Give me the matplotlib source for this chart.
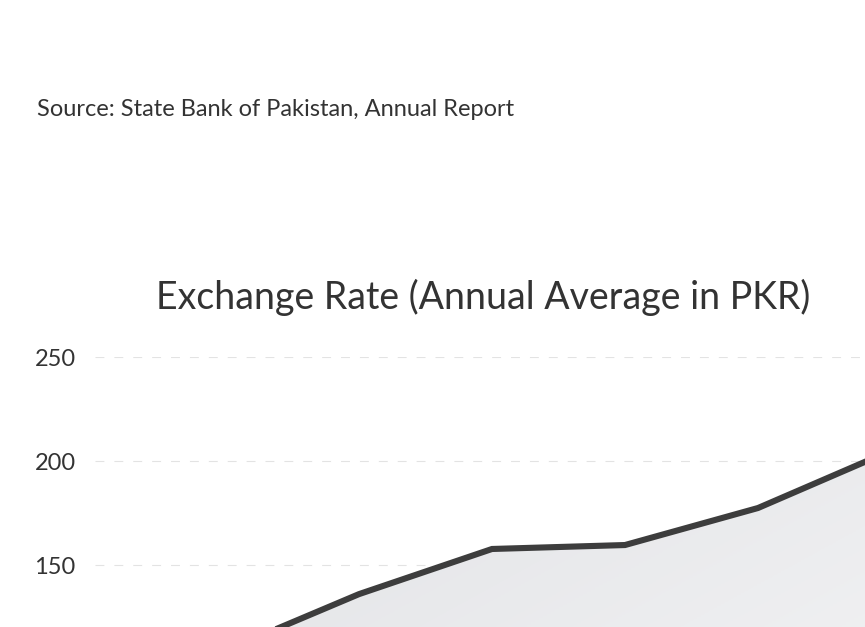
import numpy as np
import matplotlib
matplotlib.use('Agg')
import matplotlib.pyplot as plt
from matplotlib.colors import LinearSegmentedColormap

# dati (anni fiscali, media annua PKR per USD)
years = ['2018', '2019', '2020', '2021', '2022', '2023']
rate = [109, 136, 157.7, 159.6, 177.4, 205]
y_ticks = [150, 200, 250]

plt.rcParams['font.family'] = ['Lato', 'DejaVu Sans']

W, H = 865, 627
fig = plt.figure(figsize=(W / 100, H / 100), dpi=100)
fig.patch.set_facecolor('white')

# l'area del grafico esce dall'immagine (ritaglio)
left_px, right_px = 95, 1000
top_px, bottom_px = 357, 877
ax = fig.add_axes([left_px / W, (H - bottom_px) / H,
                   (right_px - left_px) / W, (bottom_px - top_px) / H])
x = np.arange(len(years))
x0_px, step_px = 226, 133
ax.set_xlim((left_px - x0_px) / step_px, (right_px - x0_px) / step_px)
ax.set_ylim(0, 250)

# riempimento sfumato sotto la linea
poly = ax.fill_between(x, rate, 0, color='none', lw=0)
cmap = LinearSegmentedColormap.from_list('g', ['#e2e3e6', '#f7f7f8'])
xs = np.linspace(0, 1, 200)
ys = np.linspace(0, 1, 200)
grad = np.add.outer(ys, xs) / 2
img = ax.imshow(grad, cmap=cmap, aspect='auto', origin='upper',
                extent=[x[0], x[-1] + 1, 0, 210], zorder=1)
img.set_clip_path(poly.get_paths()[0], transform=ax.transData)

ax.plot(x, rate, color='#3d3d3d', lw=4.4, solid_joinstyle='miter', zorder=3)

ax.set_yticks(y_ticks)
ax.set_yticklabels([str(v) for v in y_ticks])
ax.grid(axis='y', color='#e3e3e3', lw=0.8, linestyle=(0, (8, 9)), zorder=0)
ax.set_axisbelow(True)
ax.tick_params(axis='y', length=0, pad=14, labelsize=17, labelcolor='#333333')
ax.set_xticks([])
for s in ax.spines.values():
    s.set_visible(False)

fig.text(483 / W, 1 - 297 / H, 'Exchange Rate (Annual Average in PKR)',
         ha='center', va='center', fontsize=27, color='#333333')
fig.text(37 / W, 1 - 110 / H, 'Source: State Bank of Pakistan, Annual Report',
         ha='left', va='center', fontsize=17, color='#333333')

fig.savefig('out.png', dpi=100)
